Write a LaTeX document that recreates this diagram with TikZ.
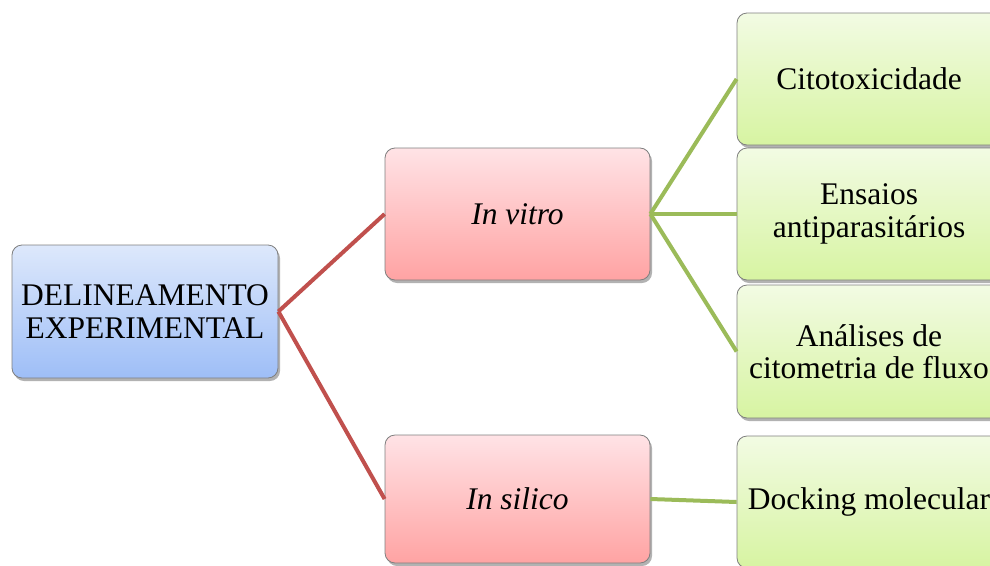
\documentclass[tikz,border=0pt]{standalone}
\usepackage{fontspec}
\setmainfont{Liberation Serif}
\usetikzlibrary{shadows}
\definecolor{redline}{HTML}{C0504D}
\definecolor{greenline}{HTML}{9BBB59}
\definecolor{boxborder}{HTML}{7F7F7F}
\definecolor{bluetop}{HTML}{DDE8FB}
\definecolor{bluebot}{HTML}{9EBEF7}
\definecolor{pinktop}{HTML}{FFE3E6}
\definecolor{pinkbot}{HTML}{FFA3A3}
\definecolor{greentop}{HTML}{F2FBE3}
\definecolor{greenbot}{HTML}{D7F4A2}
\tikzset{
  basebox/.style={rectangle, rounded corners=10pt, draw=boxborder, line width=0.8pt,
    inner sep=0pt, align=center, font=\fontsize{31.5}{32.5}\selectfont,
    drop shadow={shadow xshift=2pt, shadow yshift=-3pt, opacity=0.3, fill=black}},
  rootbox/.style={basebox, top color=bluetop, bottom color=bluebot,
    minimum width=266pt, minimum height=133pt},
  midbox/.style={basebox, top color=pinktop, bottom color=pinkbot,
    minimum width=265pt, minimum height=132pt},
  leafbox/.style={basebox, top color=greentop, bottom color=greenbot,
    minimum width=264pt, minimum height=132pt},
  redconn/.style={draw=redline, line width=4pt},
  greenconn/.style={draw=greenline, line width=4pt}
}
\begin{document}
\begin{tikzpicture}[x=1pt, y=-1pt]
\useasboundingbox (0,0) rectangle (990,565);
\begin{scope}
\clip (0,0) rectangle (990,565);
\node[rootbox] (root) at (145,311.5) {DELINEAMENTO\\EXPERIMENTAL};
\node[midbox] (vitro) at (517.5,214) {\textit{In vitro}};
\node[midbox, minimum height=128pt] (silico) at (517.5,499) {\textit{In silico}};
\node[leafbox] (cito) at (869,79) {Citotoxicidade};
\node[leafbox] (ensaios) at (869,214) {Ensaios\\antiparasitários};
\node[leafbox, minimum height=133pt] (analises) at (869,351.5) {Análises de\\citometria de fluxo};
\node[leafbox] (docking) at (869,502) {Docking molecular};
\draw[redconn] (root.east) -- (vitro.west);
\draw[redconn] (root.east) -- (silico.west);
\draw[greenconn] (vitro.east) -- (cito.west);
\draw[greenconn] (vitro.east) -- (ensaios.west);
\draw[greenconn] (vitro.east) -- (analises.west);
\draw[greenconn] (silico.east) -- (docking.west);
\end{scope}
\end{tikzpicture}
\end{document}
